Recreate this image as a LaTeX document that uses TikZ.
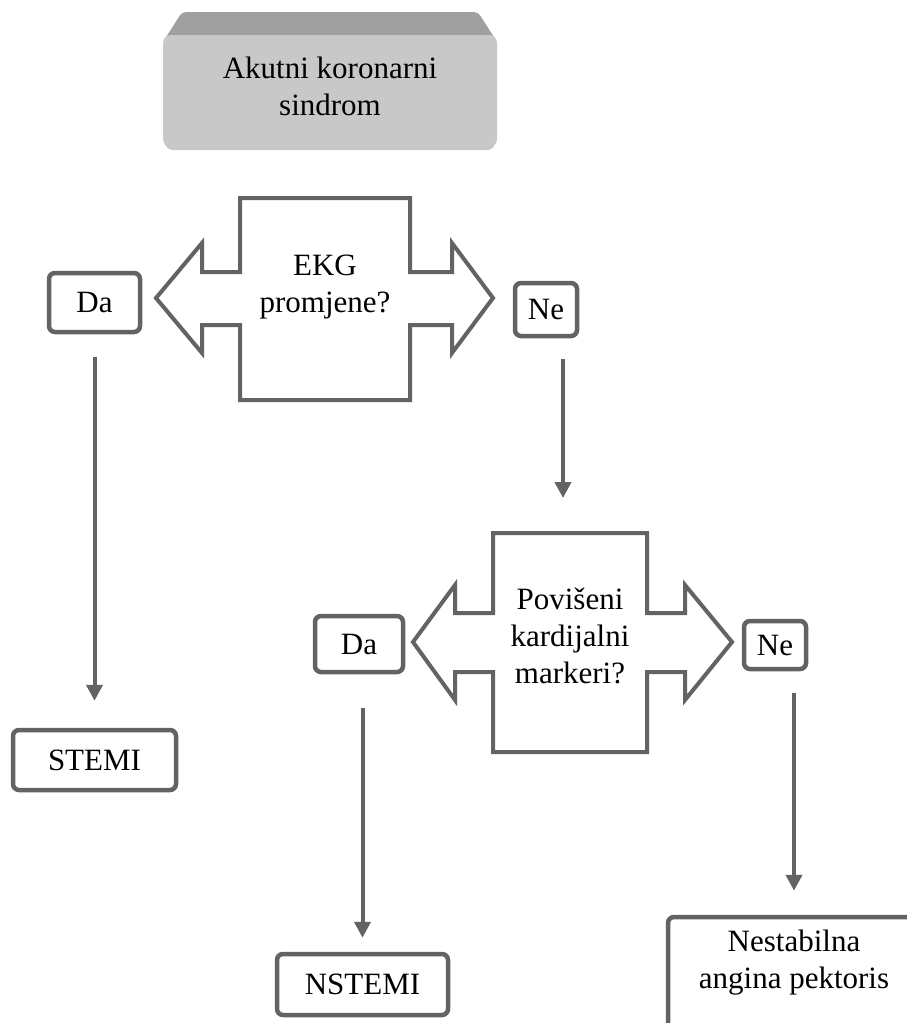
\documentclass[tikz,border=0pt]{standalone}
\usepackage{fontspec}
\setmainfont{Liberation Serif}
\usetikzlibrary{arrows.meta}
\definecolor{edge}{HTML}{636363}
\definecolor{bevelface}{HTML}{C8C8C8}
\definecolor{beveltop}{HTML}{A0A0A0}
\begin{document}
\begin{tikzpicture}[x=1pt, y=-1pt,
  every node/.style = {font=\fontsize{31}{37}\selectfont, align=center},
  box/.style = {draw=edge, line width=4.5pt, rounded corners=6pt, inner sep=0pt},
  choice/.style = {draw=edge, line width=4pt, fill=white, line join=miter},
  flow/.style = {draw=edge, line width=4pt, -{Triangle[width=16pt,length=16pt]}}]
\useasboundingbox (0,0) rectangle (907,1023);
% top box
\fill[gray!45, rounded corners=8pt] (165,40) rectangle (495,150);
\fill[beveltop, rounded corners=4pt] (163,42) -- (182,12) -- (478,12) -- (497,42) -- cycle;
\node[fill=bevelface, rounded corners=8pt, minimum width=334pt, minimum height=112pt, text depth=10pt] (acs) at (330,91) {Akutni koronarni\\sindrom};
% first question
\draw[choice] (156,298) -- (202,243) -- (202,272) -- (240,272) -- (240,198) -- (410,198) -- (410,272) -- (452,272) -- (452,243) -- (493,298) -- (452,353) -- (452,325) -- (410,325) -- (410,400) -- (240,400) -- (240,325) -- (202,325) -- (202,353) -- cycle;
\node (ekg) at (325,287) {EKG\\promjene?};
\node[box, minimum width=91pt, minimum height=59pt] (da1) at (94.5,302.5) {Da};
\node[box, minimum width=62pt, minimum height=53pt] (ne1) at (546,309.5) {Ne};
\node[box, minimum width=163pt, minimum height=60pt] (stemi) at (94.5,760) {STEMI};
% second question
\draw[choice] (413,642) -- (455,585) -- (455,613) -- (493,613) -- (493,533) -- (647,533) -- (647,613) -- (685,613) -- (685,585) -- (732,642) -- (685,700) -- (685,672) -- (647,672) -- (647,752) -- (493,752) -- (493,672) -- (455,672) -- (455,700) -- cycle;
\node (markeri) at (570,636) {Povišeni\\kardijalni\\markeri?};
\node[box, minimum width=88pt, minimum height=56pt] (da2) at (359,644) {Da};
\node[box, minimum width=62pt, minimum height=48pt] (ne2) at (775,645) {Ne};
\node[box, minimum width=171pt, minimum height=61pt] (nstemi) at (362.5,984.5) {NSTEMI};
\node[box, minimum width=252pt, minimum height=112pt, text depth=27pt] (nap) at (794,973) {Nestabilna\\angina pektoris};
% arrows
\coordinate (k1) at (563,498);
\draw[flow, shorten <=23pt, shorten >=27pt] (da1.south) -- (stemi.north);
\draw[flow, shorten <=21pt] (ne1.south -| k1) -- (k1);
\draw[flow, shorten <=34pt, shorten >=14pt] (da2.south -| nstemi.north) -- (nstemi.north);
\draw[flow, shorten <=22pt, shorten >=24pt] (ne2.south -| nap.north) -- (nap.north);
\end{tikzpicture}
\end{document}
